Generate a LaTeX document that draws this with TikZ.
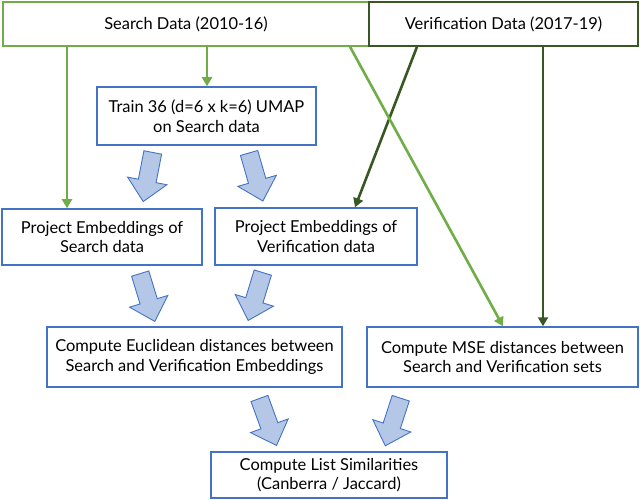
\documentclass[tikz,border=0pt]{standalone}
\usepackage{fontspec}
\setmainfont{Lato}
\usetikzlibrary{arrows.meta}
\definecolor{lgreen}{HTML}{70AD47}
\definecolor{dgreen}{HTML}{385723}
\definecolor{bblue}{HTML}{4472C4}
\definecolor{bfill}{HTML}{B4C7E7}
\tikzset{
  box/.style={draw=bblue, line width=1.5bp, fill=white, align=center, inner sep=0pt,
    font=\fontsize{16.5}{19.5}\selectfont},
  gbox/.style={box, draw=lgreen},
  dbox/.style={box, draw=dgreen},
  garrow/.style={draw=lgreen, line width=2.6bp, -{Triangle[width=10bp,length=9bp]}},
  darrow/.style={draw=dgreen, line width=2.6bp, -{Triangle[width=10bp,length=9bp]}},
  blockarr/.style={draw=bblue, line width=0.9bp, fill=bfill, line join=miter},
  barrow/.pic={\path[blockarr] (-9,-25) -- (9,-25) -- (9,4) -- (20,4) -- (0,25) -- (-20,4) -- (-9,4) -- cycle;}
}
\begin{document}
\begin{tikzpicture}[x=1bp, y=-1bp]
\useasboundingbox (0,0) rectangle (640,500);
% boxes
\node[gbox, minimum width=366bp, minimum height=44bp] (search) at (186,24) {Search Data (2010-16)};
\node[dbox, minimum width=269bp, minimum height=44bp] (verif) at (503.5,24) {Verification Data (2017-19)};
\node[box, minimum width=219bp, minimum height=58bp] (train) at (206.5,116) {Train 36 (d=6 x k=6) UMAP\\on Search data};
\node[box, minimum width=200bp, minimum height=56bp] (projs) at (102,237) {Project Embeddings of\\Search data};
\node[box, minimum width=202bp, minimum height=57bp] (projv) at (316,236.5) {Project Embeddings of\\Verification data};
\node[box, minimum width=295bp, minimum height=60bp] (euclid) at (194.5,357) {Compute Euclidean distances between\\Search and Verification Embeddings};
\node[box, minimum width=271bp, minimum height=60bp] (mse) at (502.5,357) {Compute MSE distances between\\Search and Verification sets};
\node[box, minimum width=236bp, minimum height=46bp] (list) at (329,475) {Compute List Similarities\\(Canberra / Jaccard)};
% connectors
\draw[darrow] (verif.south -| 417,0) -- (projv.north -| 355,0);
\draw[darrow] (verif.south -| 543,0) -- (mse.north -| 543,0);
\draw[garrow] (search.south -| 67,0) -- (projs.north -| 67,0);
\draw[garrow] (search.south -| 207,0) -- (train.north -| 207,0);
\draw[garrow] (search.south -| 350,0) -- (mse.north -| 503,0);
% block arrows
\pic[rotate=-11] at (148,177) {barrow};
\pic[rotate=16] at (256,177) {barrow};
\pic[rotate=17] at (147.5,297.5) {barrow};
\pic[rotate=-17] at (255.5,296.5) {barrow};
\pic[rotate=20] at (268,422) {barrow};
\pic[rotate=-18] at (393,422) {barrow};
\end{tikzpicture}
\end{document}
